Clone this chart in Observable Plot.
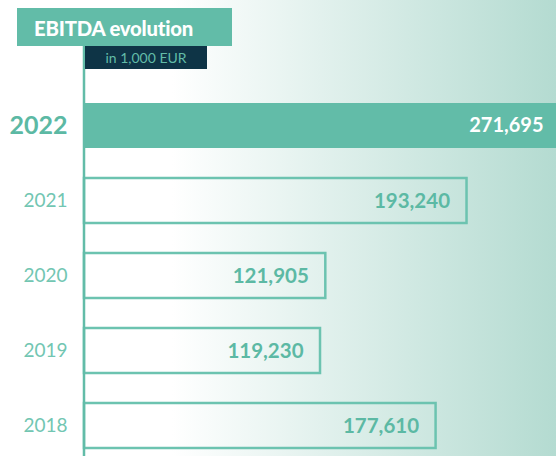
<!DOCTYPE html>
<html><head><meta charset="utf-8">
<script src="https://cdn.jsdelivr.net/npm/d3@7"></script>
<script src="https://cdn.jsdelivr.net/npm/@observablehq/plot@0.6"></script>
<style>
html,body{margin:0;padding:0;overflow:hidden;background:#fff}
#wrap{position:relative;width:556px;height:456px;overflow:hidden;background:linear-gradient(to right,#ffffff 0,#ffffff 172px,#b4dbd1 556px);font-family:Lato,sans-serif}
#title{position:absolute;left:17px;top:8px;width:215px;height:38px;background:#62bca8;color:#fff;font-weight:900;font-size:20.3px;line-height:41px;padding-left:17px;box-sizing:border-box;z-index:2;white-space:nowrap;letter-spacing:-0.2px}
#sub{position:absolute;left:85px;top:46px;width:122px;height:23px;background:#0e3446;color:#62bca8;font-size:14px;line-height:24px;text-align:center;z-index:2;white-space:nowrap}
#chart{position:absolute;left:0;top:0}
</style></head><body>
<div id="wrap"><div id="chart"></div><div id="title"></div><div id="sub"></div></div>
<script>
const titleText = "EBITDA evolution";
const subtitleText = "in 1,000 EUR";
const years = ["2022", "2021", "2020", "2019", "2018"];
const ebitda = [271695, 193240, 121905, 119230, 177610];
const highlightYear = "2022";
const xMax = 238440;

document.getElementById("title").textContent = titleText;
document.getElementById("sub").textContent = subtitleText;

const data = years.map((y, i) => ({year: y, value: ebitda[i]}));
const hi = data.filter(d => d.year === highlightYear);
const rest = data.filter(d => d.year !== highlightYear);
const fmt = d3.format(",");
const teal = "#62bca8";

const chart = Plot.plot({
  width: 556,
  height: 456,
  marginLeft: 84,
  marginRight: 0,
  marginTop: 46,
  marginBottom: 0,
  style: {background: "none", overflow: "hidden", fontFamily: "Lato, sans-serif"},
  x: {domain: [0, xMax], axis: null},
  y: {domain: years, paddingInner: 0.4, paddingOuter: 0.4333, align: 0.877, axis: null},
  marks: [
    Plot.barX(hi, {x: "value", y: "year", fill: teal, clip: true}),
    Plot.barX(rest, {x: "value", y: "year", fill: "none", stroke: "#6cc3b0", strokeWidth: 2.5}),
    Plot.ruleX([0], {stroke: teal, strokeWidth: 2.5, dx: -0.5}),
    Plot.text(hi, {x: d => Math.min(d.value, xMax), y: "year", text: d => fmt(d.value), textAnchor: "end", dx: -13, fill: "#ffffff", fontWeight: "bold", fontSize: 20}),
    Plot.text(rest, {x: "value", y: "year", text: d => fmt(d.value), textAnchor: "end", dx: -17, fill: "#5cb9a4", fontWeight: "bold", fontSize: 20.5}),
    Plot.text(hi, {x: 0, y: "year", text: "year", textAnchor: "end", dx: -17, fill: "#5cb9a4", fontWeight: "bold", fontSize: 25}),
    Plot.text(rest, {x: 0, y: "year", text: "year", textAnchor: "end", dx: -17, fill: "#72c6b2", fontSize: 19})
  ]
});
document.getElementById("chart").appendChild(chart);
</script>
</body></html>
